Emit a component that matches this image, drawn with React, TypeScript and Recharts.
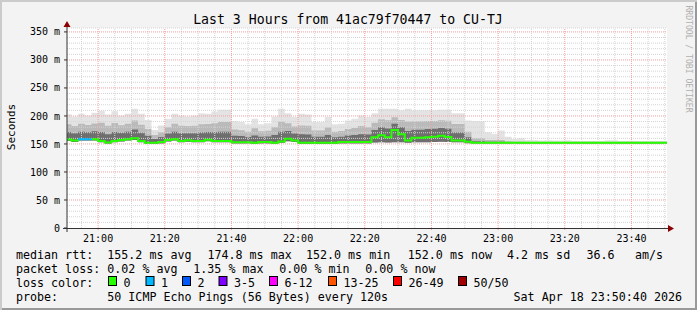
import React from "react";
import {
  ComposedChart,
  Area,
  Line,
  XAxis,
  YAxis,
  ReferenceLine,
  ReferenceArea,
} from "recharts";

// minutes after 20:00. graph spans 20:50:40 -> 23:50:40, 120s steps
const START = 50 + 40 / 60;
const END = START + 180;
const slotStart = [START, ...Array.from({ length: 90 }, (_, i) => 52 + i * 2)];

// ms, per slot
const medianRtt = [
  158, 156, 158.5, 158.5, 158.5, 155.5, 152.5, 155.5, 157, 158.5,
  160, 155.5, 152, 152, 153.5, 157, 158.5, 155.5, 156.5, 155.5,
  155.5, 157.5, 155.5, 155.5, 155.5, 153, 153, 153, 152, 153.5,
  153.5, 152, 154.5, 159.5, 156, 152, 152, 152, 152, 152,
  152, 153.5, 153.5, 153.5, 153.5, 153.5, 162, 165.5, 162, 174.8,
  167.5, 156, 161, 161, 162, 163, 164.5, 162.5, 156, 156,
  154, 152, 152, 152, 152, 152, 152, 152, 152, 152,
  152, 152, 152, 152, 152, 152, 152, 152, 152, 152,
  152, 152, 152, 152, 152, 152, 152, 152, 152, 152, 152,
];
const rttMax = [
  203, 199, 204, 201, 205.5, 209.5, 202.5, 208.5, 201, 204,
  213, 204, 193, 175, 183, 195, 204, 201, 199, 201,
  205, 204, 208, 211, 211, 191, 189, 185, 195, 185,
  187, 199, 213, 205, 198, 204, 202.5, 189, 189, 198,
  185, 186, 192, 195, 201, 198, 205, 213, 213, 213,
  210, 213, 210, 210, 210, 210, 211, 211, 205, 205,
  192, 191, 191, 171, 168, 174, 163, 159, 160, 157,
  157, 156, 156.5, 156, 156, 156.5, 155.5, 155.5, 155.5, 155.5,
  155.5, 156.5, 156.5, 155.5, 155.5, 155.5, 155.5, 155.5, 155.5, 155.5, 155.5,
];
const rttMid = [
  185, 182, 186, 184, 186.5, 188, 182.5, 187.5, 183.5, 186,
  192, 184.5, 176.5, 166, 171, 180, 186, 182.5, 182, 182.5,
  185, 185.5, 187, 189, 189, 176, 174.5, 172, 178, 172.5,
  173.5, 180, 189.5, 187, 181, 183, 182.5, 174, 174, 179.5,
  172, 173, 176.5, 178.5, 182, 180, 188, 194, 192.5, 197.5,
  193, 190, 190.5, 190.5, 191, 191, 192.5, 191.5, 185.5, 185.5,
  172, 160, 160, 157, 157, 157, 155, 154.5, 154.5, 154,
  154, 154, 154, 154, 154, 154, 154, 154, 154, 154,
  154, 154, 154, 154, 154, 154, 154, 154, 154, 154, 154,
];
const rttDark = [
  171.5, 169, 172, 171, 172.5, 171.5, 167.5, 171.5, 170, 172,
  176, 170, 164.5, 159, 162.5, 168.5, 172, 169, 169, 169,
  170.5, 171.5, 171, 172, 172, 164.5, 164, 162.5, 165, 163,
  163.5, 166, 172, 173, 168.5, 167.5, 167, 163, 163, 166,
  162, 163, 165, 166, 167.5, 167, 175, 180, 177.5, 186,
  180, 173, 175.5, 175.5, 176.5, 177, 178.5, 177, 170.5, 170.5,
  162, 155, 155, 154, 154, 154, 153.5, 153, 153, 153,
  153, 153, 153, 153, 153, 153, 153, 153, 153, 153,
  153, 153, 153, 153, 153, 153, 153, 153, 153, 153, 153,
];
const rttMin = [
  155.5, 153.5, 156, 156, 156, 153, 150.5, 153, 154.5, 156,
  157, 153, 150, 150, 151, 154.5, 156, 153, 154, 153,
  153, 155, 153, 153, 153, 151, 151, 151, 150, 151,
  151, 150, 152, 155, 153.5, 150, 150, 150, 150, 150,
  150, 151, 151, 151, 151, 151, 152.5, 153, 152.5, 153,
  153, 152, 153, 153, 153, 153.5, 154, 153.5, 153, 153,
  151.5, 151, 151, 151, 151, 151, 151, 151, 151, 151,
  151, 151, 151, 151, 151, 151, 151, 151, 151, 151,
  151, 151, 151, 151, 151, 151, 151, 151, 151, 151, 151,
];
// lost pings per slot (only a couple of 1-loss slots)
const lostPings = slotStart.map((_, i) => (i === 2 || i === 3 ? 1 : 0));

const xTicks = [60, 80, 100, 120, 140, 160, 180, 200, 220];
const yTicks = [0, 50, 100, 150, 200, 250, 300, 350];
const Y_MAX = 357;

const lossLegend = [
  { label: "0", color: "#26ff00" },
  { label: "1", color: "#00b8ff" },
  { label: "2", color: "#0059ff" },
  { label: "3-5", color: "#7e00ff" },
  { label: "6-12", color: "#ff00ff" },
  { label: "13-25", color: "#ff5500" },
  { label: "26-49", color: "#ff0000" },
  { label: "50/50", color: "#a10000" },
];

const rows: any[] = slotStart.map((t, i) => {
  const prevLoss = i > 0 ? lostPings[i - 1] : 0;
  return {
    t,
    light: [rttMin[i], rttMax[i]],
    mid: [rttMin[i], rttMid[i]],
    dark: [rttMin[i], rttDark[i]],
    median: lostPings[i] === 0 || prevLoss === 0 ? medianRtt[i] : null,
    lossMedian: lostPings[i] > 0 || prevLoss > 0 ? medianRtt[i] : null,
  };
});
// close the last step at the right edge
rows.push({ ...rows[rows.length - 1], t: END, lossMedian: null });

const minorX: number[] = [];
for (let m = 55; m < END; m += 5) if (m % 20 !== 0) minorX.push(m);
const minorY: number[] = [];
for (let v = 10; v < Y_MAX; v += 10) if (v % 50 !== 0) minorY.push(v);

const fmtTime = (v: number) => {
  const h = 20 + Math.floor(v / 60);
  const m = v % 60;
  return `${h}:${String(m).padStart(2, "0")}`;
};

const MONO = "'DejaVu Sans Mono', monospace";
const GRID = "#d4d4d4";
const MGRID = "#f2a0a0";

export default function App() {
  const swX = [108.5, 146, 182.5, 219, 269.5, 328.5, 393.5, 458.5];
  return (
    <div
      style={{
        position: "absolute",
        left: 0,
        top: 0,
        width: 697,
        height: 310,
        background: "#f3f3f3",
        boxShadow: "inset 2px 2px 0 #cbcbcb, inset -2px -2px 0 #999999",
        fontFamily: MONO,
      }}
    >
      <div style={{ position: "absolute", left: 0, top: 0 }}>
        <ComposedChart
          width={697}
          height={310}
          data={rows}
          margin={{ top: 28, right: 30, bottom: 62, left: 0 }}
        >
          <ReferenceArea
            x1={START}
            x2={END}
            y1={0}
            y2={Y_MAX}
            fill="#ffffff"
            fillOpacity={1}
            stroke="none"
          />
          <XAxis
            type="number"
            dataKey="t"
            domain={[START, END]}
            allowDataOverflow
            ticks={xTicks}
            tickFormatter={fmtTime}
            axisLine={false}
            tickLine={{ stroke: MGRID }}
            tickSize={2}
            tickMargin={5}
            height={20}
            interval={0}
            tick={{ fontSize: 10, fill: "#000", fontFamily: MONO }}
          />
          <YAxis
            type="number"
            domain={[0, Y_MAX]}
            allowDataOverflow
            ticks={yTicks}
            tickFormatter={(v: number) => (v === 0 ? "0" : `${v} m`)}
            axisLine={false}
            tickLine={{ stroke: "#333" }}
            tickSize={3}
            tickMargin={4}
            width={67}
            interval={0}
            tick={{ fontSize: 10, fill: "#000", fontFamily: MONO }}
          />
          <Area
            type="stepAfter"
            dataKey="light"
            stroke="none"
            fill="#e3e3e3"
            fillOpacity={1}
            dot={false}
            activeDot={false}
            isAnimationActive={false}
          />
          <Area
            type="stepAfter"
            dataKey="mid"
            stroke="none"
            fill="#bababa"
            fillOpacity={1}
            dot={false}
            activeDot={false}
            isAnimationActive={false}
          />
          <Area
            type="stepAfter"
            dataKey="dark"
            stroke="none"
            fill="#6e6e6e"
            fillOpacity={1}
            dot={false}
            activeDot={false}
            isAnimationActive={false}
          />
          {minorX.map((x) => (
            <ReferenceLine key={"mx" + x} x={x} stroke={GRID} strokeDasharray="1 1" />
          ))}
          {minorY.map((y) => (
            <ReferenceLine key={"my" + y} y={y} stroke={GRID} strokeDasharray="1 1" />
          ))}
          <ReferenceLine y={Y_MAX} stroke={GRID} strokeDasharray="1 1" />
          {xTicks.map((x) => (
            <ReferenceLine key={"Mx" + x} x={x} stroke={MGRID} strokeDasharray="1 1" />
          ))}
          {yTicks.slice(1).map((y) => (
            <ReferenceLine key={"My" + y} y={y} stroke={MGRID} strokeDasharray="1 1" />
          ))}
          <Line
            type="stepAfter"
            dataKey="median"
            stroke="#26ff00"
            strokeWidth={2}
            dot={false}
            activeDot={false}
            connectNulls={false}
            isAnimationActive={false}
          />
          <Line
            type="stepAfter"
            dataKey="lossMedian"
            stroke="#00b8ff"
            strokeWidth={2}
            dot={false}
            activeDot={false}
            connectNulls={false}
            isAnimationActive={false}
          />
        </ComposedChart>
      </div>
      <svg
        width={697}
        height={310}
        style={{ position: "absolute", left: 0, top: 0, pointerEvents: "none" }}
        fontFamily={MONO}
      >
        {/* axes with arrows */}
        <line x1={63} y1={228.5} x2={670} y2={228.5} stroke="#333" strokeWidth={1} />
        <polygon points="668,225 674,228.5 668,232" fill="#8b0000" />
        <line x1={67} y1={232} x2={67} y2={26} stroke="#333" strokeWidth={1} />
        <polygon points="63.5,27 67,21 70.5,27" fill="#8b0000" />

        <text x={348} y={19.5} textAnchor="middle" dominantBaseline="central" fontSize={13.2} fill="#000">
          Last 3 Hours from 41ac79f70447 to CU-TJ
        </text>
        <text
          x={11}
          y={127}
          textAnchor="middle"
          dominantBaseline="central"
          fontSize={11}
          fill="#000"
          transform="rotate(-90 11 127)"
        >
          Seconds
        </text>
        <text
          x={689}
          y={59}
          textAnchor="middle"
          dominantBaseline="central"
          fontSize={8.1}
          fill="#b0b0b0"
          transform="rotate(90 689 59)"
        >
          RRDTOOL / TOBI OETIKER
        </text>

        <g fontSize={11.66} fill="#000" dominantBaseline="central">
          <text x={16} y={254.5}>median rtt:</text>
          <text x={107.3} y={254.5}>155.2 ms avg</text>
          <text x={207.5} y={254.5}>174.8 ms max</text>
          <text x={306} y={254.5}>152.0 ms min</text>
          <text x={407.8} y={254.5}>152.0 ms now</text>
          <text x={507} y={254.5}>4.2 ms sd</text>
          <text x={586.5} y={254.5}>36.6</text>
          <text x={635} y={254.5}>am/s</text>

          <text x={16} y={268.5}>packet loss:</text>
          <text x={107.3} y={268.5}>0.02 % avg</text>
          <text x={193.3} y={268.5}>1.35 % max</text>
          <text x={279.3} y={268.5}>0.00 % min</text>
          <text x={365.3} y={268.5}>0.00 % now</text>

          <text x={16} y={282.5}>loss color:</text>
          {lossLegend.map((l, i) => (
            <g key={l.label}>
              <rect x={swX[i]} y={276.5} width={8} height={9} fill={l.color} stroke="#000" strokeWidth={1} />
              <text x={swX[i] + 15} y={282.5}>{l.label}</text>
            </g>
          ))}

          <text x={16} y={296.5}>probe:</text>
          <text x={107.3} y={296.5}>50 ICMP Echo Pings (56 Bytes) every 120s</text>
          <text x={682} y={296.5} textAnchor="end">Sat Apr 18 23:50:40 2026</text>
        </g>
      </svg>
    </div>
  );
}
